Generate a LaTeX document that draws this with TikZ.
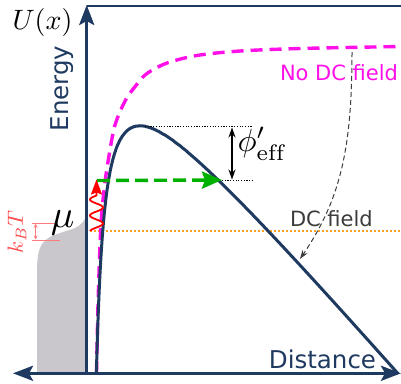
\documentclass[tikz,border=0pt]{standalone}
\usepackage{fontspec}
\newfontfamily\djv{DejaVu Sans}
\usetikzlibrary{arrows.meta}
\definecolor{navy}{HTML}{1F3A60}
\definecolor{mag}{HTML}{FF10E8}
\definecolor{orng}{HTML}{FFA020}
\definecolor{grn}{HTML}{00B000}
\definecolor{fermi}{HTML}{C9C7CB}
\definecolor{dcgray}{HTML}{3C3C3C}
\definecolor{lred}{HTML}{FF7A7A}
\definecolor{tred}{HTML}{FF4A4A}
\tikzset{
  axisline/.style={draw=navy, line width=3.2pt},
  axishead/.tip={Stealth[length=20pt,width=15pt,inset=4pt]},
  sanslabel/.style={inner sep=0pt, font=\djv\fontsize{24.5}{26}\selectfont},
  fieldlabel/.style={inner sep=0pt, font=\djv\fontsize{21}{23}\selectfont},
  mathlabel/.style={inner sep=0pt, font=\fontsize{10}{12}\selectfont},
  blackdots/.style={draw=black, line width=1pt, dash pattern=on 1.2pt off 1.5pt},
}
\begin{document}
\begin{tikzpicture}[x=1pt,y=-1pt]
\useasboundingbox (0,0) rectangle (401,383);
% Fermi distribution
\fill[fermi] plot[smooth, tension=0.6] coordinates {(87,215) (82,223) (75,228) (63,232) (50,237) (42,244) (38.5,253) (37,265)} -- (37,373) -- (87,373) -- cycle;
% chemical potential level (DC field)
\coordinate (oL) at (90,231);
\coordinate (oR) at (401,231);
\draw[orng, line width=2.6pt, dash pattern=on 2.2pt off 1.8pt] (oL) -- (oR);
% no-DC-field potential
\draw[mag, line width=3.4pt, dash pattern=on 12pt off 7pt] plot[smooth, tension=0.55] coordinates {(96.5,373) (98,305) (100,245) (101.6,215) (103.3,196.7) (105.7,176.7) (108.3,160) (111.7,140) (115,125) (120,111.7) (126.7,98) (135,86.7) (145,75) (160,66) (175,60.5) (200,55) (240,51) (300,48.5) (401,46.5)};
% DC-field potential
\draw[navy, line width=3pt] plot[domain=2.186:5.74, samples=220] ({87.5+exp(\x)}, {-96.3+1.155*(87.5+exp(\x))+3183*exp(-\x)});
% barrier dotted levels
\coordinate (pk) at (145,126.5);
\coordinate (pkR) at (252,126.5);
\coordinate (gt) at (222,180);
\coordinate (gtR) at (252,180);
\draw[blackdots] (pk) -- (pkR);
\draw[blackdots] (gt) -- (gtR);
\coordinate (dt) at (232,127.5);
\coordinate (db) at (232,179.5);
\draw[black, line width=1.3pt, {Stealth[length=10pt,width=7pt]}-{Stealth[length=10pt,width=7pt]}] (dt) -- (db);
\node[mathlabel, anchor=base west, scale=3.2] (phi) at (237,151) {$\phi'_{\mathrm{eff}}$};
% green tunnelling arrow
\coordinate (gs) at (97,180.5);
\draw[grn, line width=3.4pt, dash pattern=on 13pt off 6pt, -{Stealth[length=20pt,width=17pt,inset=3pt]}] (gs) -- (gt);
% red photon wave
\coordinate (wtip) at (96.5,179.5);
\draw[red, line width=1.8pt, -{Stealth[length=15pt,width=11pt,inset=2pt]}] plot[domain=0.5:36, samples=120] ({96.5+6.5*sin(22.5*(\x-4))}, {231.5-\x}) -- (wtip);
% kT marker
\coordinate (kTa) at (31.7,223.3);
\coordinate (kTb) at (55,223.3);
\coordinate (kTc) at (31.7,240);
\coordinate (kTd) at (60,240);
\draw[lred, line width=1pt] (kTa) -- (kTb);
\draw[lred, line width=1pt] (kTc) -- (kTd);
\coordinate (kTu) at (35.7,223.8);
\coordinate (kTl) at (35.7,239.5);
\draw[lred, line width=0.9pt, {Stealth[length=4pt,width=4pt]}-{Stealth[length=4pt,width=4pt]}] (kTu) -- (kTl);
\node[mathlabel, text=tred, rotate=90, scale=2.2] (kT) at (17,232) {$k_BT$};
\node[mathlabel, scale=3.9] (mu) at (62.5,223) {$\mu$};
% dashed "field switched on" arrow
\coordinate (ds) at (352,52);
\coordinate (de) at (300,259);
\draw[dcgray, line width=1pt, dash pattern=on 5pt off 3pt, -{Stealth[length=9pt,width=6pt]}] (ds) .. controls (352,150) and (340,200) .. (de);
% axes
\coordinate (O) at (86.7,373.3);
\coordinate (Ytop) at (86.7,5);
\coordinate (Xl) at (13,373.3);
\coordinate (Xr) at (401,373.3);
\coordinate (Tr) at (401,6);
\coordinate (Tl) at (86.7,6);
\draw[navy, line width=1.3pt] (Tl) -- (Tr);
\draw[axisline, -axishead] (O) -- (Ytop);
\draw[axisline, axishead-axishead] (Xl) -- (Xr);
% labels
\node[mathlabel, scale=2.8] (U) at (42.5,22.5) {$U(x)$};
\node[sanslabel, text=navy, rotate=90, anchor=base west] (energy) at (68.3,131.5) {Energy};
\node[sanslabel, text=navy, anchor=base west] (dist) at (268.7,368) {Distance};
\node[fieldlabel, text=dcgray, anchor=base west] (dc) at (289.8,226) {DC field};
\node[fieldlabel, text=mag, anchor=base west] (nodc) at (279.8,80) {No DC field};
\end{tikzpicture}
\end{document}
